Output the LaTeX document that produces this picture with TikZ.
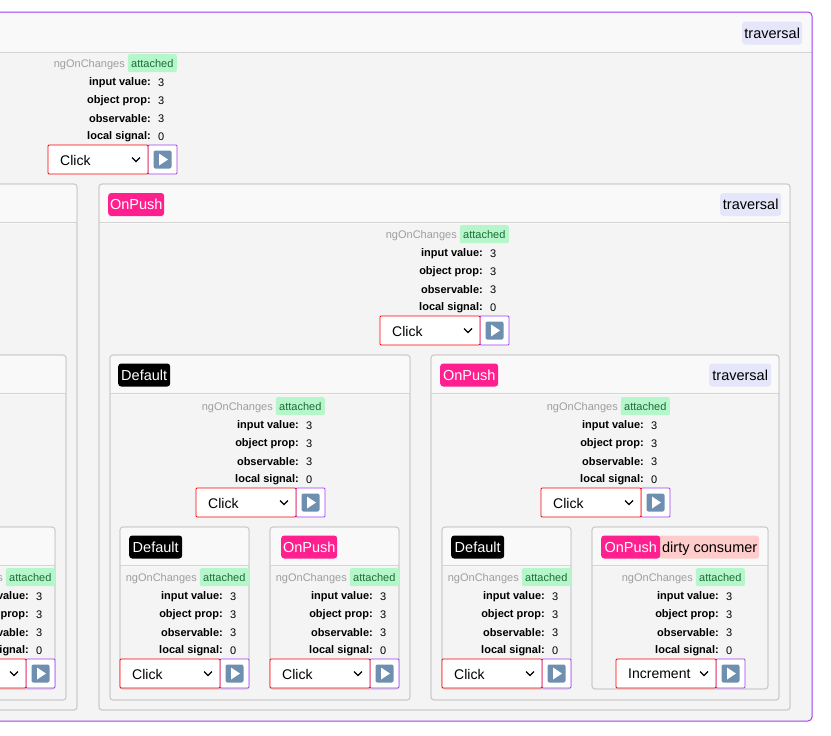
\documentclass[tikz,border=0pt]{standalone}
\usepackage{fontspec}
\setmainfont{Liberation Sans}
\begin{document}
\definecolor{pborder}{HTML}{C8C8C8}
\definecolor{pbody}{HTML}{F4F4F4}
\definecolor{phead}{HTML}{F9F9F9}
\definecolor{onpush}{HTML}{FF1F8E}
\definecolor{trav}{HTML}{E6E6FA}
\definecolor{attfill}{HTML}{B5F7CB}
\definecolor{atttext}{HTML}{1E6B34}
\definecolor{dirty}{HTML}{FFCCCC}
\definecolor{outer}{HTML}{A040F0}
\definecolor{btnblue}{HTML}{6E8FB0}
\tikzset{
  panel/.style={draw=pborder,fill=pbody,rounded corners=3pt,line width=0.8pt},
  badge/.style={inner sep=0pt,minimum height=23pt,rounded corners=3pt,font=\fontsize{14.5}{16}\selectfont,anchor=west,text depth=0pt},
  lbl/.style={font=\fontsize{11}{13}\selectfont\bfseries,anchor=east,inner sep=0pt},
  val/.style={font=\fontsize{11}{13}\selectfont,anchor=west,inner sep=0pt},
  gray/.style={font=\fontsize{11}{13}\selectfont,text=black!38,anchor=east,inner sep=0pt},
  att/.style={fill=attfill,text=atttext,rounded corners=2pt,font=\fontsize{11}{13}\selectfont,inner sep=0pt,minimum width=49pt,minimum height=18pt,anchor=north east},
  sel/.style={draw=red,fill=white,line width=0.9pt,rounded corners=1pt},
  btn/.style={draw=outer,fill=white,line width=0.9pt,rounded corners=1pt},
}
% #1 x1, #2 y1, #3 x2, #4 y2
\newcommand\mypanel[4]{%
  \fill[panel] (#1,#2) rectangle (#3,#4);
  \fill[phead,rounded corners=3pt] ({#1+0.5},{#2+0.5}) rectangle ({#3-0.5},{#2+40});
  \draw[pborder,line width=0.8pt,rounded corners=3pt] (#1,#2) rectangle (#3,#4);
  \draw[pborder!80,line width=0.6pt] (#1,{#2+38}) -- (#3,{#2+38});
}
% #1 name, #2 R, #3 Y, #4 select text
\newcommand\mycontent[4]{%
  \node[att] (#1att) at (#2,#3) {attached};
  \node[gray] (#1ng) at ({#2-52},{#3+10.5}) {ngOnChanges};
  \node[lbl] (#1l1) at ({#2-26},{#3+28.5}) {input value:};
  \node[val] (#1v1) at ({#2-19},{#3+28.5}) {3};
  \node[lbl] (#1l2) at ({#2-26},{#3+46.5}) {object prop:};
  \node[val] (#1v2) at ({#2-19},{#3+46.5}) {3};
  \node[lbl] (#1l3) at ({#2-26},{#3+64.5}) {observable:};
  \node[val] (#1v3) at ({#2-19},{#3+64.5}) {3};
  \node[lbl] (#1l4) at ({#2-26},{#3+82.5}) {local signal:};
  \node[val] (#1v4) at ({#2-19},{#3+82.5}) {0};
  \draw[btn] ({#2-29},{#3+91}) rectangle (#2,{#3+120});
  \draw[sel] ({#2-129},{#3+91}) rectangle ({#2-29},{#3+120});
  \node[val,font=\fontsize{14}{16}\selectfont] (#1sel) at ({#2-117},{#3+106}) {#4};
  \draw[line width=1.3pt] ({#2-45},{#3+103.5}) -- ({#2-41},{#3+107.5}) -- ({#2-37},{#3+103.5});
  \fill[btnblue,rounded corners=2pt] ({#2-23.5},{#3+96.5}) rectangle ({#2-5.5},{#3+114.5});
  \fill[white] ({#2-18},{#3+99.5}) -- ({#2-18},{#3+111.5}) -- ({#2-9},{#3+105.5}) -- cycle;
}
\begin{tikzpicture}[x=1pt,y=-1pt]
\useasboundingbox (0,0) rectangle (831,736);
\fill[white] (0,0) rectangle (831,736);
\begin{scope}
\clip (0,0) rectangle (831,736);
% outer
\fill[pbody,rounded corners=4pt] (-30,12) rectangle (812,721);
\fill[phead] (-30,12.5) rectangle (811.5,52);
\draw[pborder!80,line width=0.6pt] (-30,52) -- (812,52);
\draw[outer,line width=1pt,rounded corners=4pt] (-30,12) rectangle (812,721);
\node[badge,fill=trav,minimum width=60pt] (t0) at (742,33) {traversal};
\mycontent{top}{177}{54}{Click}
% left partial panels
\mypanel{-40}{184}{77}{710}
\mypanel{-40}{355}{66}{700}
\mypanel{-40}{527}{55}{689}
\mycontent{lc}{55}{568}{Click}
% middle OnPush
\mypanel{99}{184}{790}{710}
\node[badge,fill=onpush,text=white,minimum width=56pt] (op1) at (108,204.5) {OnPush};
\node[badge,fill=trav,minimum width=61pt] (t1) at (720,204.5) {traversal};
\mycontent{g}{509}{225}{Click}
% Default panel D
\mypanel{110}{355}{410}{700}
\node[badge,fill=black,text=white,minimum width=52pt] (d1) at (118,375) {Default};
\mycontent{d}{325}{397}{Click}
\mypanel{120}{527}{249}{689}
\node[badge,fill=black,text=white,minimum width=53pt] (d2) at (129,547) {Default};
\mycontent{e}{249}{568}{Click}
\mypanel{270}{527}{399}{689}
\node[badge,fill=onpush,text=white,minimum width=56pt] (op2) at (281,547) {OnPush};
\mycontent{f}{399}{568}{Click}
% OnPush panel H
\mypanel{431}{355}{779}{700}
\node[badge,fill=onpush,text=white,minimum width=58pt] (op3) at (440,375) {OnPush};
\node[badge,fill=trav,minimum width=62pt] (t2) at (709,375) {traversal};
\mycontent{h}{670}{397}{Click}
\mypanel{442}{527}{571}{689}
\node[badge,fill=black,text=white,minimum width=53pt] (d3) at (451,547) {Default};
\mycontent{i}{571}{568}{Click}
\mypanel{592}{527}{768}{689}
\node[badge,fill=dirty,minimum width=101pt] (dc) at (658,547) {\hspace{2pt}dirty consumer};
\node[badge,fill=onpush,text=white,minimum width=59pt] (op4) at (601,547) {OnPush};
\mycontent{j}{745}{568}{Increment}
\end{scope}
\end{tikzpicture}
\end{document}
